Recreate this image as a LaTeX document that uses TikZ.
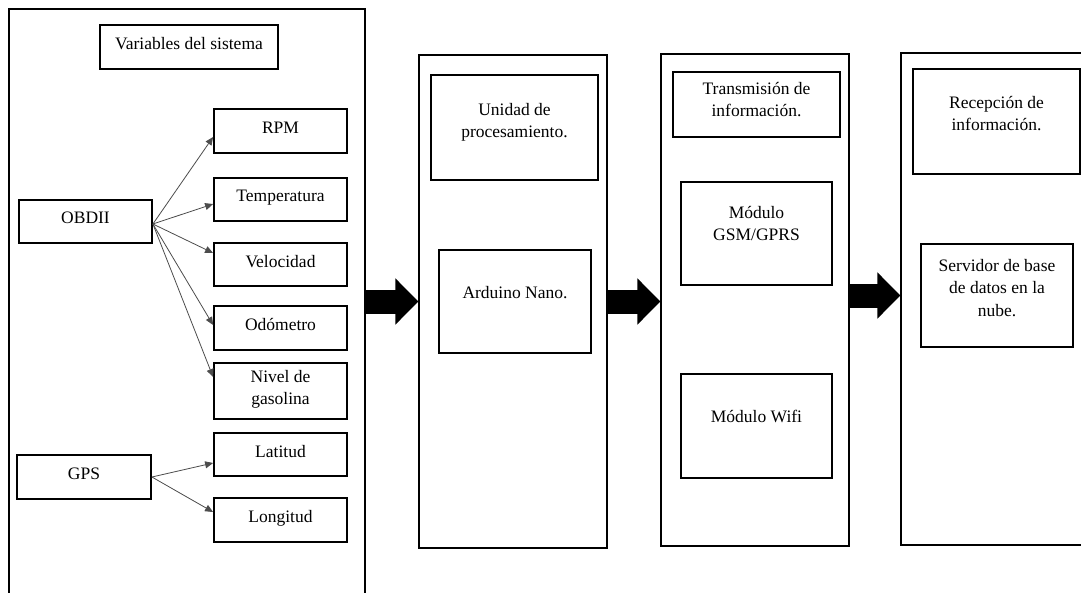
\documentclass[tikz,border=0pt]{standalone}
\usepackage{fontspec}
\setmainfont{Liberation Serif}
\usetikzlibrary{arrows.meta,positioning}

\newcommand{\boxfont}{\fontsize{17.5}{22.5}\selectfont}

\tikzset{
  column/.style={draw, line width=1.3pt, inner sep=0pt},
  unit/.style={draw, line width=1.8pt, inner sep=0pt, align=center, text depth=7pt},
  inlabel/.style={align=center, inner sep=0pt},
  signal/.style={draw=black!70, line width=0.8pt, -{Triangle[length=8pt,width=7pt]}},
  flow/.style={line width=24pt, -{Triangle[length=23pt,width=45pt]}},
}

\begin{document}
\begin{tikzpicture}[x=1pt, y=-1pt, font=\boxfont]
\useasboundingbox (0,0) rectangle (1081,592);

% the four stages
\node [column, minimum width=356pt, minimum height=591pt] (sys) at (187,304.5) {};
\node [column, minimum width=188pt, minimum height=493pt] (proc) at (513,301.5) {};
\node [column, minimum width=188pt, minimum height=492pt] (tx) at (755,300) {};
\node [column, minimum width=194pt, minimum height=492pt] (rx) at (998,299) {};

% system variables
\node [unit, minimum width=178pt, minimum height=44pt] (vars) at (189,47) {Variables del sistema};
\node [unit, minimum width=133pt, minimum height=43pt] (obd) at (85.5,221.5) {OBDII};
\node [unit, minimum width=134pt, minimum height=44pt] (gps) at (84,477) {GPS};
\node [unit, minimum width=133pt, minimum height=44pt] (rpm) at (280.5,131) {RPM};
\node [unit, minimum width=133pt, minimum height=43pt] (temp) at (280.5,199.5) {Temperatura};
\node [unit, minimum width=133pt, minimum height=43pt] (vel) at (280.5,264.5) {Velocidad};
\node [unit, minimum width=133pt, minimum height=44pt] (odo) at (280.5,328) {Odómetro};
\node [unit, minimum width=133pt, minimum height=56pt] (fuel) at (280.5,391) {Nivel de\\gasolina};
\node [unit, minimum width=133pt, minimum height=43pt] (lat) at (280.5,454.5) {Latitud};
\node [unit, minimum width=133pt, minimum height=44pt] (lon) at (280.5,520) {Longitud};

\draw [signal] ([yshift=-2.5pt]obd.east) -- ([yshift=-6pt]rpm.west);
\draw [signal] ([yshift=-2.5pt]obd.east) -- ([yshift=-4.5pt]temp.west);
\draw [signal] ([yshift=-2.5pt]obd.east) -- ([yshift=11.5pt]vel.west);
\draw [signal] ([yshift=-2.5pt]obd.east) -- ([yshift=3pt]odo.west);
\draw [signal] ([yshift=-2.5pt]obd.east) -- ([yshift=14pt]fuel.west);
\draw [signal] (gps.east) -- ([yshift=-8.5pt]lat.west);
\draw [signal] (gps.east) -- ([yshift=8pt]lon.west);

% processing
\node [unit, minimum width=167pt, minimum height=105pt,
  label={[inlabel, below=29pt]north:Unidad de\\procesamiento.}] (unid) at (514.5,127.5) {};
\node [unit, minimum width=152pt, minimum height=103pt,
  label={[inlabel, below=37pt]north:Arduino Nano.}] (nano) at (515,301.5) {};

% transmission
\node [unit, minimum width=167pt, minimum height=65pt,
  label={[inlabel, below=11pt]north:Transmisión de\\información.}] (txt) at (756.5,104.5) {};
\node [unit, minimum width=151pt, minimum height=103pt,
  label={[inlabel, below=25pt]north:Módulo\\GSM/GPRS}] (gsm) at (756.5,233.5) {};
\node [unit, minimum width=151pt, minimum height=104pt,
  label={[inlabel, below=37pt]north:Módulo Wifi}] (wifi) at (756.5,426) {};

% reception
\node [unit, minimum width=167pt, minimum height=105pt,
  label={[inlabel, below=28pt]north:Recepción de\\información.}] (rxt) at (996.5,121.5) {};
\node [unit, minimum width=152pt, minimum height=103pt,
  label={[inlabel, below=16pt]north:Servidor de base\\de datos en la\\nube.}] (serv) at (997,295.5) {};

% data flow between stages
\draw [flow] (sys.east |- nano) -- (proc.west |- nano);
\draw [flow] (proc.east |- nano) -- (tx.west |- nano);
\draw [flow] (tx.east |- serv) -- (rx.west |- serv);
\end{tikzpicture}
\end{document}
